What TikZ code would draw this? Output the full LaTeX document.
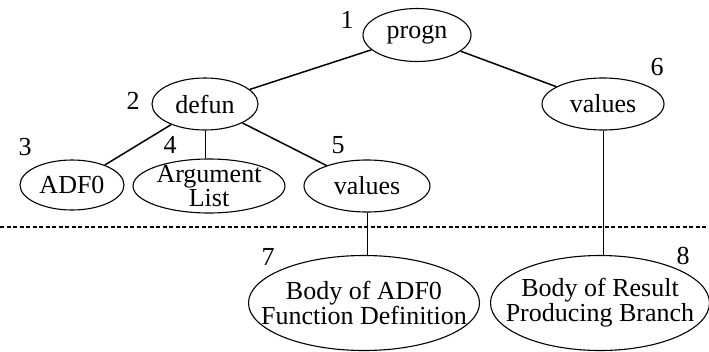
\documentclass[tikz,border=0pt]{standalone}
\usepackage{fontspec}
\setmainfont{Liberation Serif}
\usetikzlibrary{shapes.geometric}

\begin{document}
\begin{tikzpicture}[x=1pt,y=-1pt,
  every node/.style={inner sep=0pt,font=\fontsize{26}{25}\selectfont},
  fn/.style={draw,ellipse,line width=1.1pt,inner sep=-150pt},
  num/.style={},
  branch/.style={line width=1.5pt},
  stem/.style={line width=0.8pt}]
\useasboundingbox (0,0) rectangle (709,351);
% top of the tree
\node [fn,minimum width=108,minimum height=53] (progn) at (417,35) {progn};
\node [num] (n1) at (347,20) {1};
\node [fn,minimum width=106,minimum height=52] (defun) at (205,104) {defun};
\node [num] (n2) at (133,101) {2};
\node [fn,minimum width=122,minimum height=52] (valB) at (603,104) {values};
\node [num] (n6) at (657,67) {6};
% children of defun
\node [fn,minimum width=104,minimum height=50] (adf) at (72,185) {ADF0};
\node [num] (n3) at (25,147) {3};
\node [fn,minimum width=152,minimum height=54,align=center,
  font=\fontsize{26}{22}\selectfont] (arglist) at (209,186) {Argument\\List};
\node [num] (n4) at (170,145) {4};
\node [fn,minimum width=126,minimum height=52] (valA) at (367,186) {values};
\node [num] (n5) at (338,145) {5};
% bodies
\node [fn,minimum width=231,minimum height=95,align=center] (bodyA) at (364,303)
  {Body of ADF0\\Function Definition};
\node [num] (n7) at (268,257) {7};
\node [fn,minimum width=219,minimum height=95,align=center] (bodyB) at (600,303)
  {Body of Result\\Producing Branch};
\node [num] (n8) at (683,256) {8};
% edges
\draw [branch] (progn) -- (defun);
\draw [branch] (progn) -- (valB);
\draw [branch] (defun) -- (adf);
\draw [stem] (defun.south) -- (defun.south |- arglist.north);
\draw [branch] (defun) -- (valA);
\draw [stem] (valA.south) -- (valA.south |- bodyA.north);
\draw [stem] (valB.south) -- (valB.south |- bodyB.north);
% split line
\draw [line width=1.1pt,dash pattern=on 4pt off 2.5pt] (0,227) -- (709,227);
\end{tikzpicture}
\end{document}
